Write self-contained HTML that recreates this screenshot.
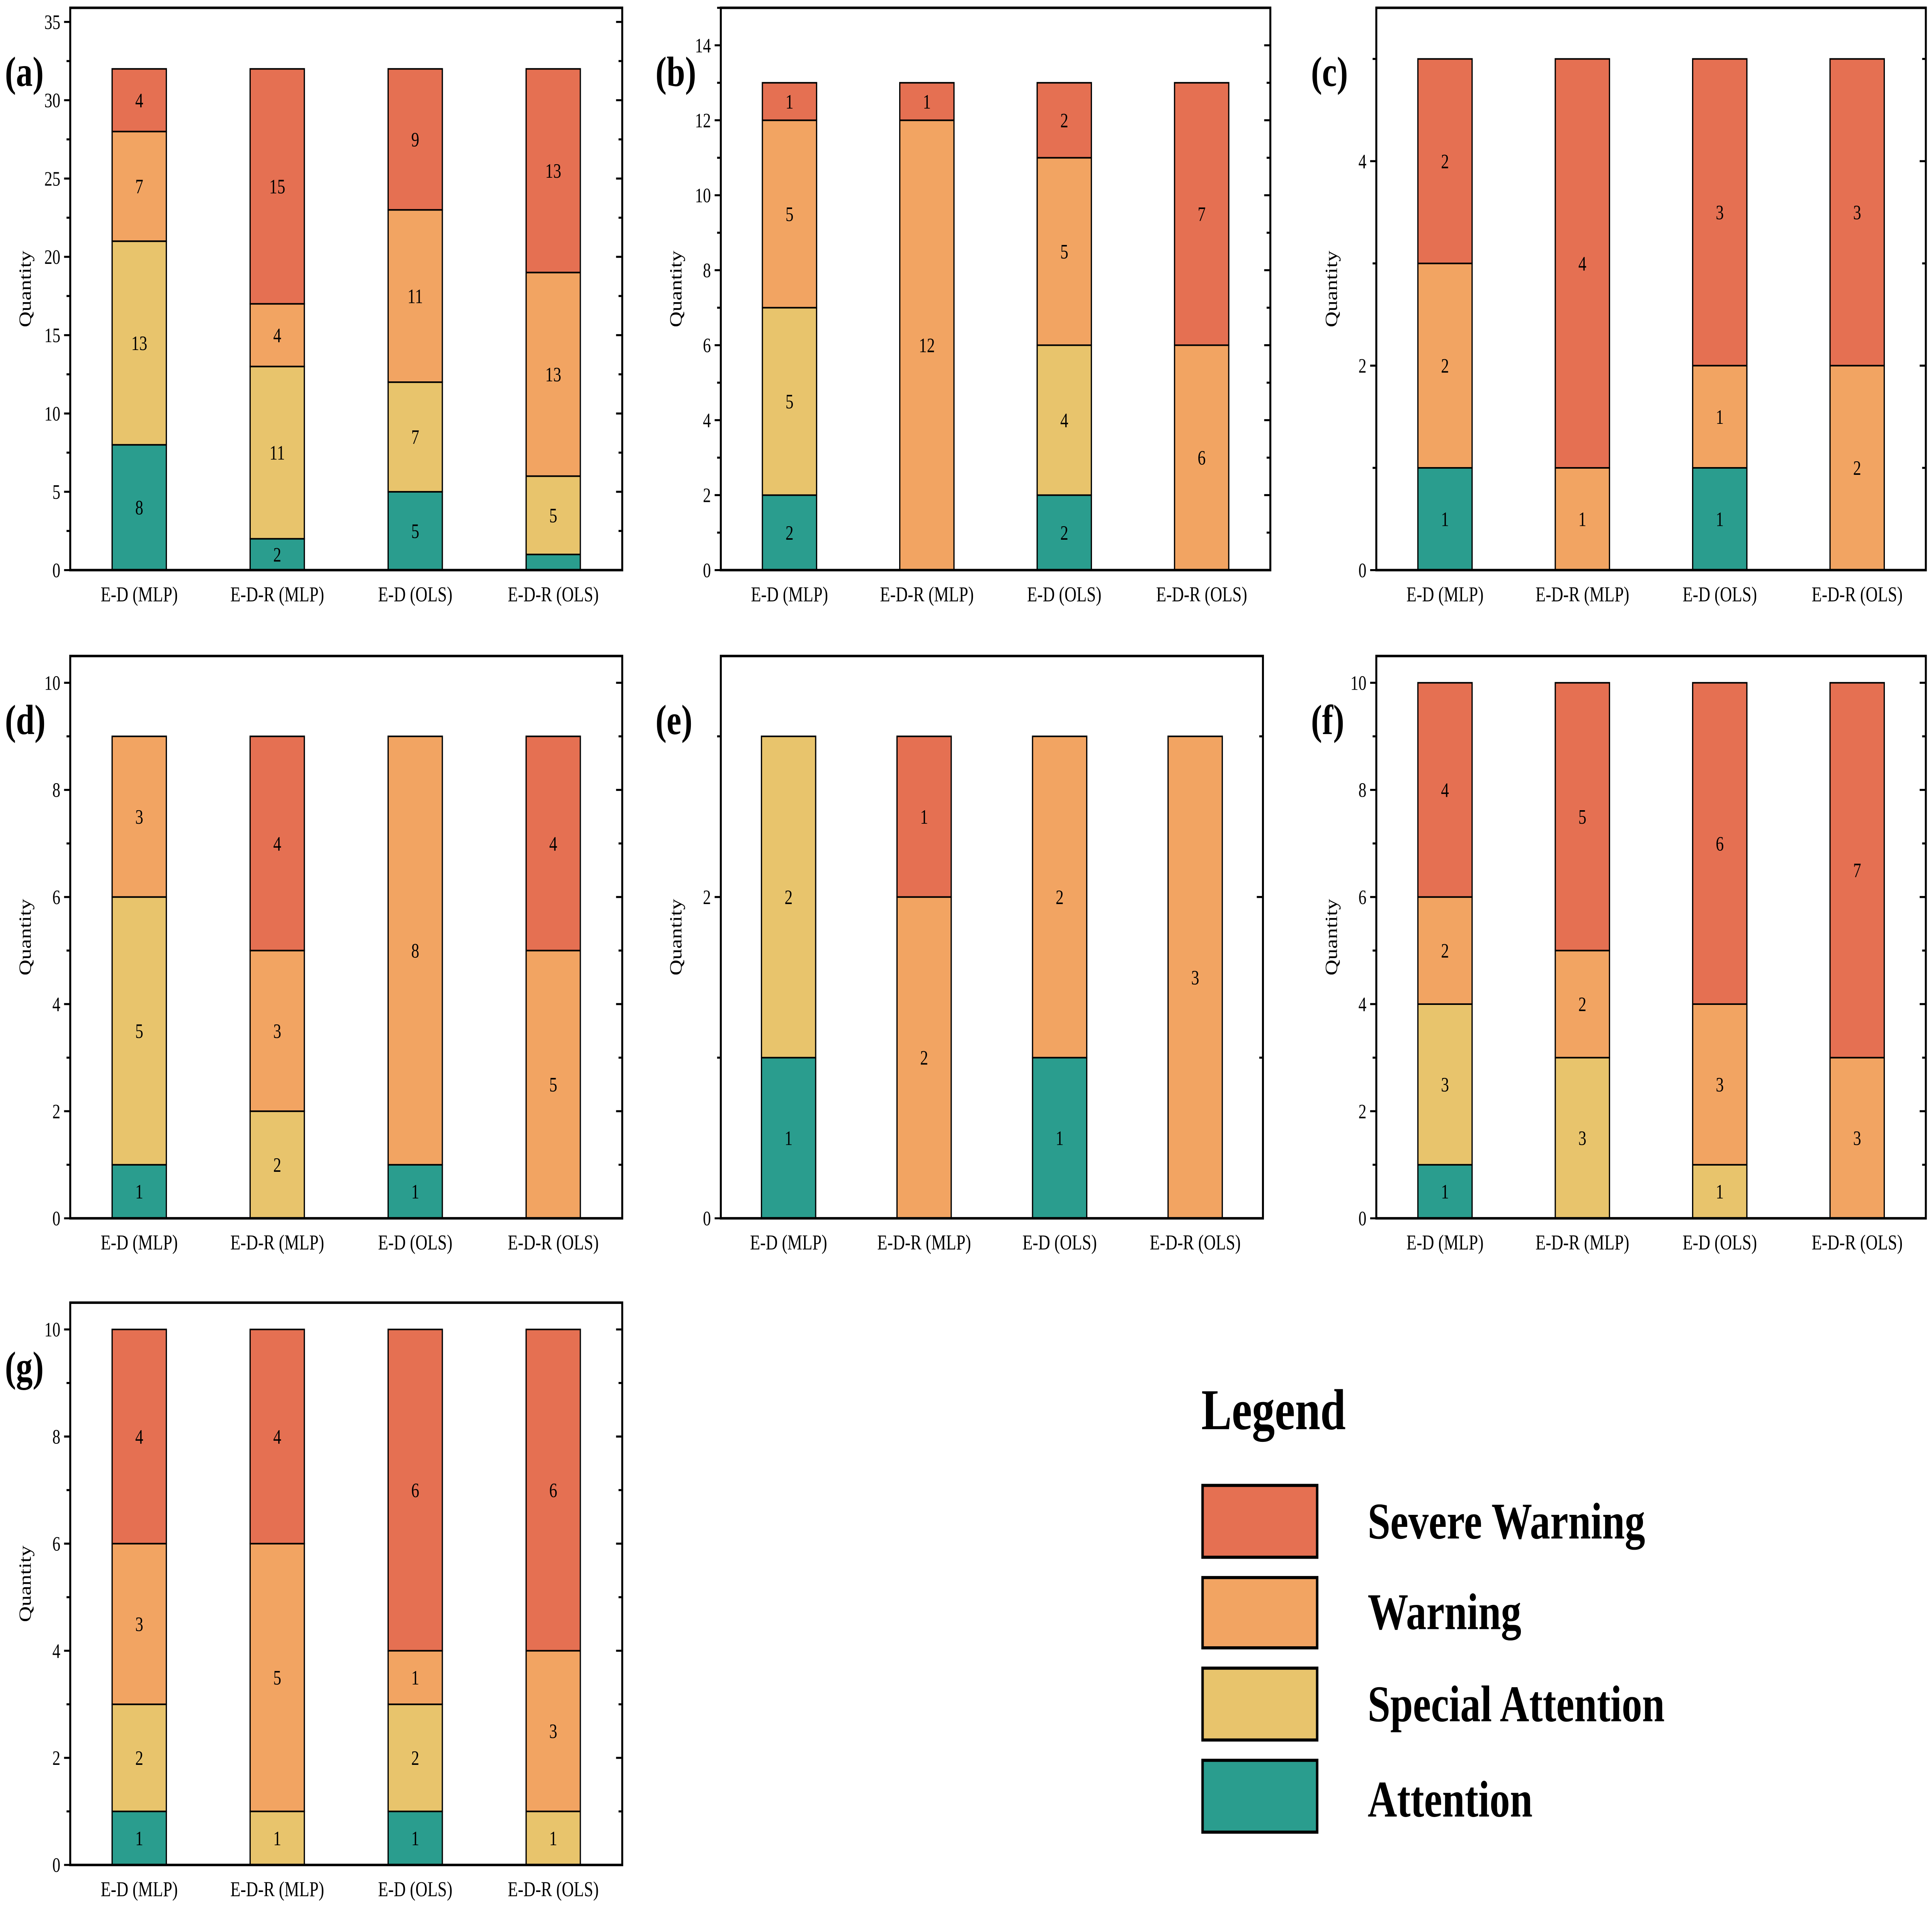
<!DOCTYPE html>
<html><head><meta charset="utf-8"><style>
html,body{margin:0;padding:0;background:#fff;width:100%;height:100%;overflow:hidden}
svg{display:block;width:100vw;height:100vh}
text{font-family:"Liberation Serif",serif}
</style></head><body>
<svg id="fig" xmlns="http://www.w3.org/2000/svg" viewBox="0 0 1568 1225.4" preserveAspectRatio="none">
<g id="plots"></g>
<g id="legend">
<text x="975" y="915" font-size="37" font-weight="bold">Legend</text>
<rect x="976" y="951" width="93" height="46" fill="#E57052" stroke="#000" stroke-width="2"/>
<text x="1110" y="985" font-size="33" font-weight="bold">Severe Warning</text>
<rect x="976" y="1010" width="93" height="45" fill="#F2A462" stroke="#000" stroke-width="2"/>
<text x="1110" y="1043" font-size="33" font-weight="bold">Warning</text>
<rect x="976" y="1068" width="93" height="46" fill="#E8C46C" stroke="#000" stroke-width="2"/>
<text x="1110" y="1102" font-size="33" font-weight="bold">Special Attention</text>
<rect x="976" y="1127" width="93" height="46" fill="#2A9D8E" stroke="#000" stroke-width="2"/>
<text x="1110" y="1163" font-size="33" font-weight="bold">Attention</text>
</g>
</svg>
<script>
const categories = ["E-D (MLP)", "E-D-R (MLP)", "E-D (OLS)", "E-D-R (OLS)"];
const seriesNames = ["Attention", "Special Attention", "Warning", "Severe Warning"];
const panelIds = ["a","b","c","d","e","f","g"];
const attentionA=[8,2,5,1], specialA=[13,11,7,5], warningA=[7,4,11,13], severeA=[4,15,9,13];
const attentionB=[2,0,2,0], specialB=[5,0,4,0], warningB=[5,12,5,6], severeB=[1,1,2,7];
const attentionC=[1,0,1,0], specialC=[0,0,0,0], warningC=[2,1,1,2], severeC=[2,4,3,3];
const attentionD=[1,0,1,0], specialD=[5,2,0,0], warningD=[3,3,8,5], severeD=[0,4,0,4];
const attentionE=[1,0,1,0], specialE=[2,0,0,0], warningE=[0,2,2,3], severeE=[0,1,0,0];
const attentionF=[1,0,0,0], specialF=[3,3,1,0], warningF=[2,2,3,3], severeF=[4,5,6,7];
const attentionG=[1,0,1,0], specialG=[2,1,2,1], warningG=[3,5,1,3], severeG=[4,4,6,6];
const yMaxes=[35.9,15,5.5,10.5,3.5,10.5,10.5];
const majorSteps=[5,2,2,2,2,2,2];
const minorSteps=[2.5,1,1,1,1,1,1];
const colors=["#2A9D8E","#E8C46C","#F2A462","#E57052"];
const NS="http://www.w3.org/2000/svg";
const data=[[attentionA,specialA,warningA,severeA],[attentionB,specialB,warningB,severeB],[attentionC,specialC,warningC,severeC],[attentionD,specialD,warningD,severeD],[attentionE,specialE,warningE,severeE],[attentionF,specialF,warningF,severeF],[attentionG,specialG,warningG,severeG]];
const boxes=[[57,5,505,365],[585,5,1031,365],[1117,5,1563,365],[57,420,505,780],[585,420,1025,780],[1117,420,1563,780],[57,834,505,1194]];
const root=document.getElementById('plots');
function mk(tag,attrs,parent){const e=document.createElementNS(NS,tag);for(const k in attrs)e.setAttribute(k,attrs[k]);parent.appendChild(e);return e;}
data.forEach((series,p)=>{
  const [x0,y0,x1,y1]=boxes[p];
  const g=mk('g',{},root);
  
  
  const ymax=yMaxes[p];
  const yS=v=>y1-(v/ymax)*(y1-y0);
  const w=x1-x0;
  const xS=i=>x0+w*(2*i+1)/8;
  const bw=44;
  for(let v=0;v<=ymax+1e-9;v+=minorSteps[p]){
    const y=yS(v);
    const isMaj=Math.abs(v/majorSteps[p]-Math.round(v/majorSteps[p]))<1e-9;
    const len=isMaj?5:3;
    const t1=mk('line',{x1:x0-len,x2:x0,y1:y,y2:y,stroke:'#000','stroke-width':1.3},g);
    
    
    const t2=mk('line',{x1:x1-len,x2:x1,y1:y,y2:y,stroke:'#000','stroke-width':1.3},g);
    
    
    if(isMaj){
      const tl=mk('text',{x:x0-8,y:y+4.5,'font-size':13,'text-anchor':'end'},g);
      tl.textContent=String(Math.round(v));
      
      
    }
  }
  categories.forEach((c,i)=>{
    let base=0;
    series.forEach((arr,s)=>{
      const v=arr[i];
      if(v<=0)return;
      const yt=yS(base+v),yb=yS(base);
      const r=mk('rect',{x:xS(i)-bw/2,y:yt,width:bw,height:yb-yt,fill:colors[s],stroke:'#000','stroke-width':1},g);
      
      
      if(yb-yt>15){
        const t=mk('text',{x:xS(i),y:(yt+yb)/2+4.5,'font-size':13,'text-anchor':'middle'},g);
        t.textContent=String(v);
        
        
      }
      base+=v;
    });
    const xl=mk('text',{x:xS(i),y:y1+20,'font-size':13.5,'text-anchor':'middle'},g);
    xl.textContent=c;
    
    
  });
  const fr=mk('rect',{x:x0,y:y0,width:w,height:y1-y0,fill:'none',stroke:'#000','stroke-width':1.6},g);
  
  
  const yl=mk('text',{x:0,y:0,'font-size':14,'text-anchor':'middle',transform:`translate(${x0-32},${(y0+y1)/2}) rotate(-90)`},g);
  yl.textContent='Quantity';
  
  
  const pl=mk('text',{x:x0-53,y:y0+50,'font-size':27,'font-weight':'bold'},g);
  pl.textContent='('+panelIds[p]+')';
  
  
});
</script>
</body></html>
